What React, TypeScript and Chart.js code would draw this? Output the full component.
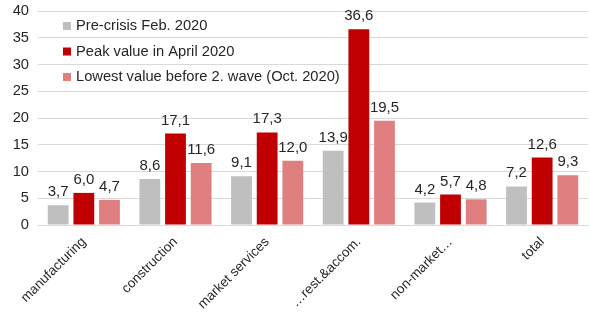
import React, { useEffect, useRef } from "react";
import { Chart, registerables } from "chart.js";

Chart.register(...registerables);

const categories = ["manufacturing", "construction", "market services", "…rest.&accom.", "non-market…", "total"];
const preCrisis = [3.7, 8.6, 9.1, 13.9, 4.2, 7.2];
const peakApril = [6.0, 17.1, 17.3, 36.6, 5.7, 12.6];
const lowestOct = [4.7, 11.6, 12.0, 19.5, 4.8, 9.3];
const seriesNames = ["Pre-crisis Feb. 2020", "Peak value in April 2020", "Lowest value before 2. wave (Oct. 2020)"];
const colors = ["#BFBFBF", "#C00000", "#E07F7F"];

const FONT = "'Liberation Sans', Arial, sans-serif";

const labelsPlugin = {
  id: "valueLabels",
  afterDatasetsDraw(chart: any) {
    const ctx = chart.ctx;
    ctx.save();
    ctx.font = `15px ${FONT}`;
    ctx.fillStyle = "#262626";
    ctx.textAlign = "center";
    ctx.textBaseline = "alphabetic";
    chart.data.datasets.forEach((ds: any, i: number) => {
      const meta = chart.getDatasetMeta(i);
      meta.data.forEach((el: any, j: number) => {
        const v = ds.data[j] as number;
        ctx.fillText(v.toFixed(1).replace(".", ","), el.x, el.y - 9);
      });
    });
    ctx.restore();
  },
};

const legendPlugin = {
  id: "innerLegend",
  afterDraw(chart: any) {
    const ctx = chart.ctx;
    ctx.save();
    ctx.font = `14.7px ${FONT}`;
    ctx.textBaseline = "middle";
    ctx.textAlign = "left";
    seriesNames.forEach((name, i) => {
      const y = 26 + i * 25.5;
      ctx.fillStyle = colors[i];
      ctx.fillRect(63, y - 4, 8, 8);
      ctx.fillStyle = "#262626";
      ctx.fillText(name, 76, y);
    });
    ctx.restore();
  },
};

export default function App() {
  const ref = useRef<HTMLCanvasElement>(null);
  useEffect(() => {
    document.body.style.margin = "0";
    const chart = new Chart(ref.current!, {
      type: "bar",
      data: {
        labels: categories,
        datasets: [preCrisis, peakApril, lowestOct].map((d, i) => ({
          label: seriesNames[i],
          data: d,
          backgroundColor: colors[i],
          categoryPercentage: 0.84,
          barPercentage: 0.81,
        })),
      },
      options: {
        animation: false,
        responsive: false,
        layout: { padding: { top: 11, right: 2, left: 0, bottom: 0 } },
        plugins: { legend: { display: false }, tooltip: { enabled: false } },
        scales: {
          x: {
            grid: { display: false, drawTicks: false },
            border: { color: "#D9D9D9", width: 1 },
            ticks: {
              maxRotation: 45,
              minRotation: 45,
              autoSkip: false,
              color: "#262626",
              font: { family: FONT, size: 13.5 },
              padding: 9,
            },
            afterFit: (s: any) => { s.height = 88; s.paddingLeft = 0; s.paddingRight = 0; },
          },
          y: {
            min: 0,
            max: 40,
            ticks: { stepSize: 5, color: "#262626", font: { family: FONT, size: 14.7 }, padding: 9 },
            grid: { color: "#D9D9D9", drawTicks: false },
            border: { display: false },
            afterFit: (s: any) => { s.width = 38; s.paddingTop = 0; s.paddingBottom = 0; },
          },
        },
      },
      plugins: [labelsPlugin, legendPlugin],
    });
    return () => chart.destroy();
  }, []);
  return (
    <div style={{ width: 590, height: 313 }}>
      <canvas ref={ref} width={590} height={313} style={{ width: 590, height: 313 }} />
    </div>
  );
}
